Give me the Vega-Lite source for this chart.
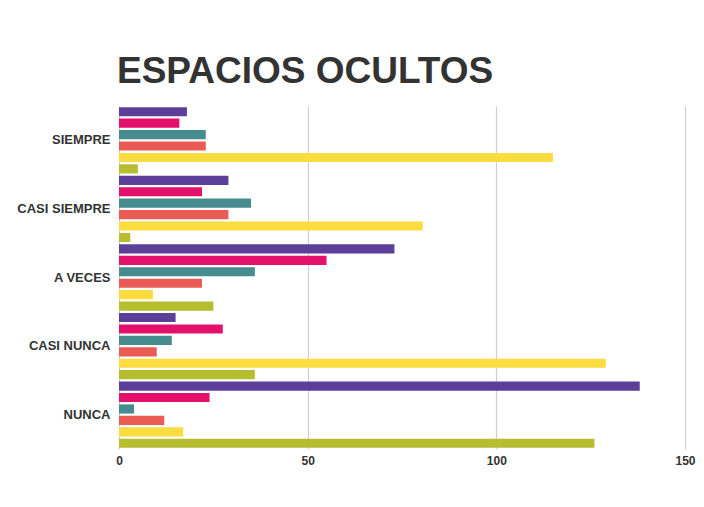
{
  "$schema": "https://vega.github.io/schema/vega-lite/v6.json",
  "autosize": "none",
  "width": 566,
  "height": 343,
  "padding": {"left": 119, "top": 106, "right": 19, "bottom": 58},
  "background": "white",
  "title": {
    "text": "ESPACIOS OCULTOS",
    "anchor": "start",
    "frame": "group",
    "orient": "top",
    "font": "Liberation Sans",
    "fontSize": 37,
    "fontWeight": "bold",
    "color": "#333333",
    "baseline": "alphabetic",
    "offset": -14,
    "dx": -2
  },
  "data": {
    "values": [
      {"categoria": "SIEMPRE", "serie": "s1", "valor": 18},
      {"categoria": "SIEMPRE", "serie": "s2", "valor": 16},
      {"categoria": "SIEMPRE", "serie": "s3", "valor": 23},
      {"categoria": "SIEMPRE", "serie": "s4", "valor": 23},
      {"categoria": "SIEMPRE", "serie": "s5", "valor": 115},
      {"categoria": "SIEMPRE", "serie": "s6", "valor": 5},
      {"categoria": "CASI SIEMPRE", "serie": "s1", "valor": 29},
      {"categoria": "CASI SIEMPRE", "serie": "s2", "valor": 22},
      {"categoria": "CASI SIEMPRE", "serie": "s3", "valor": 35},
      {"categoria": "CASI SIEMPRE", "serie": "s4", "valor": 29},
      {"categoria": "CASI SIEMPRE", "serie": "s5", "valor": 80.5},
      {"categoria": "CASI SIEMPRE", "serie": "s6", "valor": 3},
      {"categoria": "A VECES", "serie": "s1", "valor": 73},
      {"categoria": "A VECES", "serie": "s2", "valor": 55},
      {"categoria": "A VECES", "serie": "s3", "valor": 36},
      {"categoria": "A VECES", "serie": "s4", "valor": 22},
      {"categoria": "A VECES", "serie": "s5", "valor": 9},
      {"categoria": "A VECES", "serie": "s6", "valor": 25},
      {"categoria": "CASI NUNCA", "serie": "s1", "valor": 15},
      {"categoria": "CASI NUNCA", "serie": "s2", "valor": 27.5},
      {"categoria": "CASI NUNCA", "serie": "s3", "valor": 14},
      {"categoria": "CASI NUNCA", "serie": "s4", "valor": 10},
      {"categoria": "CASI NUNCA", "serie": "s5", "valor": 129},
      {"categoria": "CASI NUNCA", "serie": "s6", "valor": 36},
      {"categoria": "NUNCA", "serie": "s1", "valor": 138},
      {"categoria": "NUNCA", "serie": "s2", "valor": 24},
      {"categoria": "NUNCA", "serie": "s3", "valor": 4},
      {"categoria": "NUNCA", "serie": "s4", "valor": 12},
      {"categoria": "NUNCA", "serie": "s5", "valor": 17},
      {"categoria": "NUNCA", "serie": "s6", "valor": 126}
    ]
  },
  "mark": {"type": "bar"},
  "encoding": {
    "y": {
      "field": "categoria",
      "type": "nominal",
      "sort": ["SIEMPRE", "CASI SIEMPRE", "A VECES", "CASI NUNCA", "NUNCA"],
      "scale": {"paddingInner": 0, "paddingOuter": 0},
      "axis": {
        "title": null,
        "domain": false,
        "ticks": false,
        "grid": false,
        "labelPadding": 9,
        "labelFont": "Liberation Sans",
        "labelFontSize": 13,
        "labelFontWeight": "bold",
        "labelColor": "#333333"
      }
    },
    "yOffset": {
      "field": "serie",
      "type": "nominal",
      "scale": {"paddingInner": 0.2, "paddingOuter": 0.1}
    },
    "x": {
      "field": "valor",
      "type": "quantitative",
      "scale": {"domain": [0, 150], "nice": false},
      "axis": {
        "title": null,
        "values": [0, 50, 100, 150],
        "domain": false,
        "ticks": false,
        "grid": true,
        "gridColor": "#cfcfcf",
        "gridWidth": 1.2,
        "labelFlush": false,
        "labelPadding": 6,
        "labelFont": "Liberation Sans",
        "labelFontSize": 12,
        "labelFontWeight": "bold",
        "labelColor": "#333333"
      }
    },
    "color": {
      "field": "serie",
      "type": "nominal",
      "scale": {
        "domain": ["s1", "s2", "s3", "s4", "s5", "s6"],
        "range": ["#5B3F99", "#E4116C", "#468B8D", "#EB5B56", "#FDDC40", "#B6BE2F"]
      },
      "legend": null
    }
  },
  "config": {
    "view": {"stroke": null}
  }
}
